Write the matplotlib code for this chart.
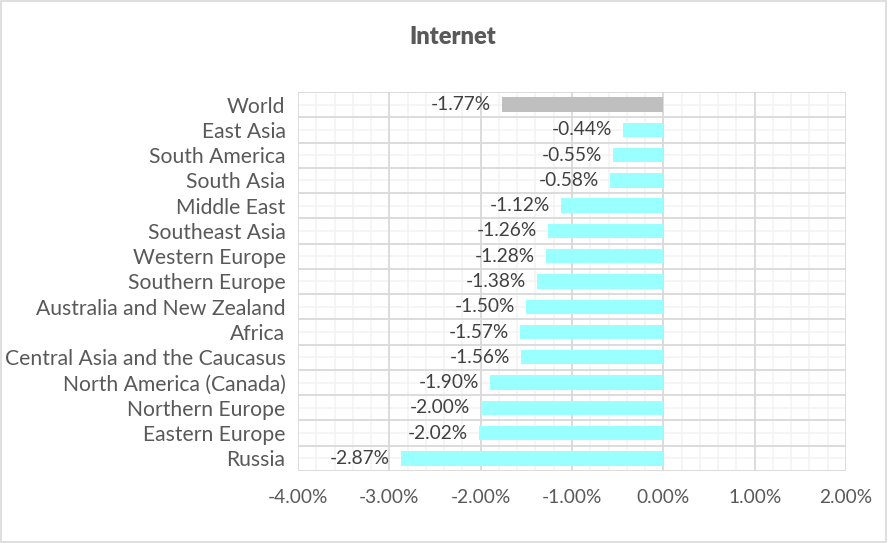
import matplotlib
matplotlib.use("Agg")
import matplotlib.pyplot as plt
from matplotlib.ticker import MultipleLocator, FuncFormatter
from matplotlib.patches import Rectangle

regions = [
    "World", "East Asia", "South America", "South Asia", "Middle East",
    "Southeast Asia", "Western Europe", "Southern Europe",
    "Australia and New Zealand", "Africa", "Central Asia and the Caucasus",
    "North America (Canada)", "Northern Europe", "Eastern Europe", "Russia",
]
changes = [-1.77, -0.44, -0.55, -0.58, -1.12, -1.26, -1.28, -1.38,
           -1.50, -1.57, -1.56, -1.90, -2.00, -2.02, -2.87]
bar_colors = ["#BFBFBF"] + ["#99FFFF"] * (len(regions) - 1)

text_color = "#595959"
plt.rcParams["font.family"] = ["Lato", "DejaVu Sans"]

fig = plt.figure(figsize=(8.88, 5.43), dpi=100)
fig.patches.append(Rectangle((0.001, 0.002), 0.997, 0.996, transform=fig.transFigure,
                             fill=False, edgecolor="#D9D9D9", linewidth=1.2))
ax = fig.add_axes([0.3356, 0.1326, 0.6171, 0.698])

y = list(range(len(regions)))
ax.barh(y, changes, height=0.57, color=bar_colors, zorder=3)

ax.set_xlim(-4, 2)
ax.set_ylim(len(regions) - 0.5, -0.5)
ax.xaxis.set_major_locator(MultipleLocator(1))
ax.xaxis.set_minor_locator(MultipleLocator(0.2))
ax.xaxis.set_major_formatter(FuncFormatter(lambda v, p: f"{v:.2f}%"))
ax.set_yticks(y)
ax.set_yticklabels(regions)

# grid: major verticals every 1%, minor every 0.2%; horizontals at category
# boundaries (darker) and centres (lighter)
for v in [i * 0.2 - 4 for i in range(31)]:
    major = abs(v - round(v)) < 1e-6
    ax.axvline(v, color="#D9D9D9" if major else "#F2F2F2",
               lw=1.3 if major else 1.1, zorder=1 if major else 0.5)
for b in [i + 0.5 for i in range(-1, len(regions))]:
    ax.axhline(b, color="#D9D9D9", lw=1.3, zorder=1)
for c in y:
    ax.axhline(c, color="#F2F2F2", lw=1.1, zorder=0.5)

for s in ax.spines.values():
    s.set_visible(False)
ax.tick_params(axis="both", which="both", length=0)
ax.tick_params(axis="y", labelsize=15.2, labelcolor=text_color, pad=9)
ax.tick_params(axis="x", labelsize=13.8, labelcolor=text_color, pad=13)

for yi, v in zip(y, changes):
    ax.annotate(f"{v:.2f}%", xy=(v, yi), xytext=(-8, 0), textcoords="offset points",
                ha="right", va="center", fontsize=13.8, color="#404040", zorder=4)

fig.text(0.51, 0.932, "Internet", ha="center", va="center",
         fontsize=17, fontweight="heavy", color=text_color)

fig.savefig("out.png", dpi=100)
